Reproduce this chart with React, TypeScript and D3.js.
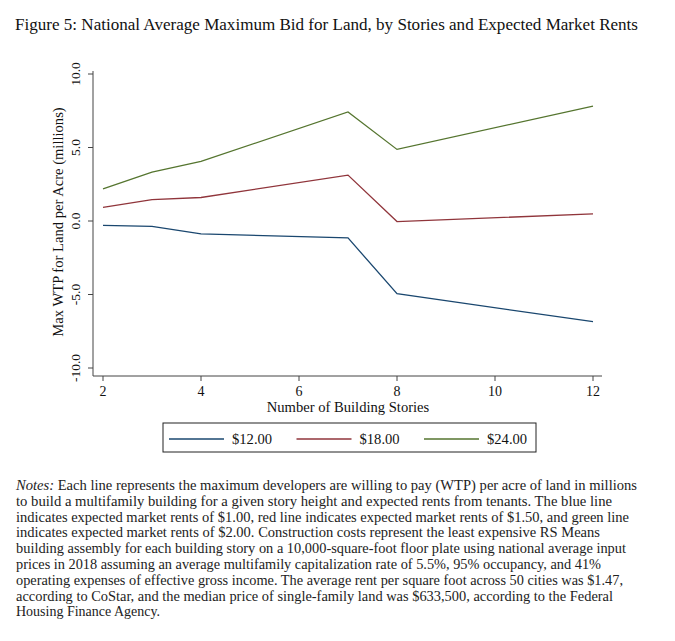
import React from 'react';
import * as d3 from 'd3';

const stories = [2, 3, 4, 7, 8, 12];
const rent12 = [-0.3, -0.37, -0.88, -1.15, -4.95, -6.85];
const rent18 = [0.93, 1.45, 1.6, 3.12, -0.04, 0.48];
const rent24 = [2.18, 3.32, 4.05, 7.42, 4.87, 7.82];
const seriesNames = ['$12.00', '$18.00', '$24.00'];
const seriesColors = ['#1a476f', '#90353b', '#55752f'];
const xTicks = [2, 4, 6, 8, 10, 12];
const yTicks = [-10, -5, 0, 5, 10];

const titleText = 'Figure 5: National Average Maximum Bid for Land, by Stories and Expected Market Rents';
const noteLines = [
  ' Each line represents the maximum developers are willing to pay (WTP) per acre of land in millions',
  'to build a multifamily building for a given story height and expected rents from tenants. The blue line',
  'indicates expected market rents of $1.00, red line indicates expected market rents of $1.50, and green line',
  'indicates expected market rents of $2.00. Construction costs represent the least expensive RS Means',
  'building assembly for each building story on a 10,000-square-foot floor plate using national average input',
  'prices in 2018 assuming an average multifamily capitalization rate of 5.5%, 95% occupancy, and 41%',
  'operating expenses of effective gross income. The average rent per square foot across 50 cities was $1.47,',
  'according to CoStar, and the median price of single-family land was $633,500, according to the Federal',
  'Housing Finance Agency.',
];
const noteEnds = [637, 612, 629, 600, 626, 601, 623, 613, 160];

const App: React.FC = () => {
  const width = 675;
  const height = 641;
  const font = '"Liberation Serif", "Times New Roman", serif';

  const x = d3.scaleLinear().domain([2, 12]).range([103, 593]);
  const y = d3.scaleLinear().domain([-10, 10]).range([368, 74]);
  const axisX0 = 93;
  const axisY0 = 376;

  const series = [rent12, rent18, rent24];
  const line = d3.line<number>()
    .x((_, i) => x(stories[i]))
    .y(d => y(d));

  return (
    <svg width={width} height={height} style={{ position: 'absolute', left: 0, top: 0, background: '#fff' }}
      fontFamily={font}>
      <rect width={width} height={height} fill="#fff" />
      <text x={15} y={30} fontSize={16} fill="#111" textLength={623} lengthAdjust="spacingAndGlyphs">
        {titleText}
      </text>

      {/* axes */}
      <line x1={axisX0} x2={axisX0} y1={71} y2={axisY0} stroke="#444" strokeWidth={1} />
      <line x1={axisX0} x2={602} y1={axisY0} y2={axisY0} stroke="#444" strokeWidth={1} />
      {yTicks.map(t => (
        <g key={t}>
          <line x1={axisX0 - 5} x2={axisX0} y1={y(t)} y2={y(t)} stroke="#444" />
          <text transform={`translate(${80},${y(t)}) rotate(-90)`} textAnchor="middle" fontSize={13.5} fill="#111">
            {t.toFixed(1)}
          </text>
        </g>
      ))}
      {xTicks.map(t => (
        <g key={t}>
          <line x1={x(t)} x2={x(t)} y1={axisY0} y2={axisY0 + 5} stroke="#444" />
          <text x={x(t)} y={396} textAnchor="middle" fontSize={14} fill="#111">{t}</text>
        </g>
      ))}
      <text transform={`translate(${63},${222}) rotate(-90)`} textAnchor="middle" fontSize={14.6} fill="#111">
        Max WTP for Land per Acre (millions)
      </text>
      <text x={348} y={411.5} textAnchor="middle" fontSize={14.6} fill="#111">Number of Building Stories</text>

      {/* lines */}
      {series.map((s, i) => (
        <path key={i} d={line(s) || ''} fill="none" stroke={seriesColors[i]} strokeWidth={1.3} />
      ))}

      {/* legend */}
      <rect x={163} y={423} width={373} height={29} fill="#fff" stroke="#222" strokeWidth={1} />
      {seriesNames.map((n, i) => {
        const lx = 169 + i * 127.5;
        return (
          <g key={n}>
            <line x1={lx} x2={lx + 55} y1={439} y2={439} stroke={seriesColors[i]} strokeWidth={1.3} />
            <text x={lx + 63} y={444} fontSize={14.6} fill="#111">{n}</text>
          </g>
        );
      })}

      {/* notes */}
      {noteLines.map((l, i) => (
        <text key={i} x={16} y={490 + i * 15.8} fontSize={14} fill="#222"
          textLength={noteEnds[i] - 16} lengthAdjust="spacingAndGlyphs">
          {i === 0 ? <tspan fontStyle="italic">Notes:</tspan> : null}
          {l}
        </text>
      ))}
    </svg>
  );
};

export default App;
